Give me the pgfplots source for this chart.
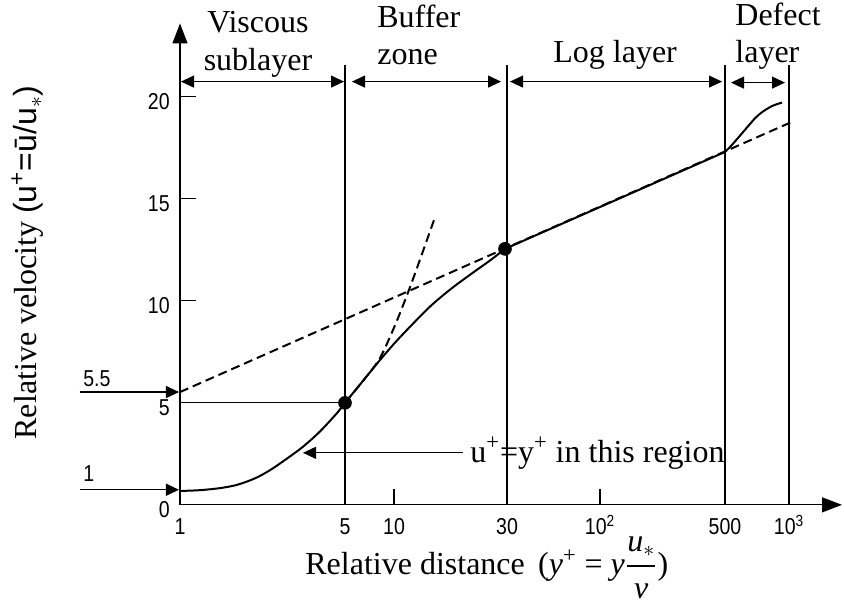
\documentclass[border=0pt]{standalone}
\usepackage{amsmath}
\usepackage{fontspec}
\setmainfont{Liberation Serif}
\newfontfamily\sansf{Liberation Sans}
\usepackage{pgfplots}
\pgfplotsset{compat=1.18}
\usetikzlibrary{arrows.meta}

% x axis is schematic (not a true log scale): x = position along the axis
\newcommand{\lbl}{\fontsize{16}{19}\selectfont}
\newcommand{\tk}{\sansf\fontsize{11.5}{13}\selectfont}
\tikzset{sarr/.style={line width=0.55pt,-{Triangle[length=6.5pt,width=6pt]}},
         darr/.style={line width=0.55pt,{Triangle[length=6.5pt,width=6pt]}-{Triangle[length=6.5pt,width=6pt]}}}

\begin{document}
\begin{tikzpicture}
\begin{axis}[
  scale only axis, width=331pt, height=240.7pt,
  xmin=0, xmax=662, ymin=0, ymax=23.6,
  axis lines=left,
  x axis line style={line width=0.55pt,-{Triangle[length=10pt,width=7.5pt]}},
  y axis line style={line width=0.55pt,-{Triangle[length=10pt,width=7.5pt]}},
  xtick={0,165,214,327,420,545,609},
  xticklabels={1,5,10,30,10\textsuperscript{2},500,10\textsuperscript{3}},
  ytick={0,5,10,15,20}, yticklabels={0,5,10,15,20},
  tick align=inside, major tick length=8pt,
  tick style={line width=0.55pt,black},
  ticklabel style={font=\tk,xscale=0.85},
  xticklabel style={anchor=base,yshift=-15pt},
  yticklabel style={xshift=-2.5pt,yshift=-2.5pt},
  clip=false,
]
% frame of the whole picture
\path (axis cs:-180,24.75) rectangle (axis cs:664,-4.9);

% velocity profile
\addplot[black,line width=1pt,smooth] coordinates {
 (0,0.68) (20,0.72) (40,0.82) (57,0.98) (75,1.3) (90,1.7) (105,2.2) (123,2.85)
 (140,3.6) (157,4.5) (165,5.0) (175,5.6) (185,6.2) (200,7.1) (215,7.95)
 (230,8.73) (250,9.72) (270,10.55) (290,11.28) (310,11.98) (325,12.55)};
\addplot[black,line width=1pt] coordinates {(325,12.55) (545,17.3)};
\addplot[black,line width=1pt,smooth] coordinates {
 (545,17.3) (552,17.65) (560,18.1) (567,18.5) (575,18.95) (582,19.25) (592,19.55) (602,19.72)};

% u+ = y+ (dashed)
\addplot[black,line width=1pt,dash pattern=on 4.5pt off 2.5pt,smooth] coordinates {
 (165,5.0) (185,6.2) (200,7.2) (215,8.8) (229,10.54) (242,12.3) (255,14.1)};
% log law (dashed)
\addplot[black,line width=1pt,dash pattern=on 4.5pt off 2.5pt] coordinates {(0,5.53) (613,18.8)};

\addplot[only marks,mark=*,mark size=3.2pt,black] coordinates {(165,5.0) (325,12.55)};

% region boundaries
\foreach \xv in {165,327,545,609}{
  \edef\tmp{\noexpand\draw[line width=0.55pt] (axis cs:\xv,0) -- (axis cs:\xv,21.55);}\tmp
}
\draw[line width=0.55pt] (axis cs:0,5) -- (axis cs:165,5);

% region arrows and labels
\draw[darr] (axis cs:1,20.75) -- (axis cs:164,20.75);
\draw[darr] (axis cs:172,20.75) -- (axis cs:321,20.75);
\draw[darr] (axis cs:330,20.75) -- (axis cs:542,20.75);
\draw[darr] (axis cs:551,20.7) -- (axis cs:605,20.7);
\node[font=\lbl,anchor=base] at (axis cs:78,23.14) {Viscous};
\node[font=\lbl,anchor=base] at (axis cs:78,21.27) {sublayer};
\node[font=\lbl,anchor=base west,inner sep=0pt] at (axis cs:197,23.38) {Buffer};
\node[font=\lbl,anchor=base west,inner sep=0pt] at (axis cs:197,21.57) {zone};
\node[font=\lbl,anchor=base west,inner sep=0pt] at (axis cs:373,21.67) {Log layer};
\node[font=\lbl,anchor=base west,inner sep=0pt] at (axis cs:555,23.5) {Defect};
\node[font=\lbl,anchor=base west,inner sep=0pt] at (axis cs:555,21.67) {layer};

% left marker arrows
\draw[sarr] (axis cs:-100,5.53) -- (axis cs:-1,5.53);
\draw[sarr] (axis cs:-100,0.74) -- (axis cs:-1,0.74);
\node[font=\tk,xscale=0.85,anchor=base west,inner sep=0pt] at (axis cs:-97,5.78) {5.5};
\node[font=\tk,xscale=0.85,anchor=base west,inner sep=0pt] at (axis cs:-97,1.13) {1};

% annotation
\draw[sarr] (axis cs:283,2.55) -- (axis cs:123,2.55);
\node[font=\lbl,anchor=base west,inner sep=0pt] at (axis cs:290,2.1)
  {u\textsuperscript{+}=y\textsuperscript{+} in this region};

% axis titles
\node[font=\lbl,anchor=base west,inner sep=0pt] at (axis cs:125,-3.43)
  {Relative distance \,({\itshape y}\textsuperscript{+} = {\itshape y}$\dfrac{\text{\itshape u}_{*}}{\text{\itshape ν}}$)};
\node[font=\lbl,anchor=base west,inner sep=0pt,rotate=90] at (axis cs:-143,3.19)
  {Relative velocity {\sansf(u\textsuperscript{+}=\={u}/u$_{*}$)}};
\end{axis}
\end{tikzpicture}
\end{document}
